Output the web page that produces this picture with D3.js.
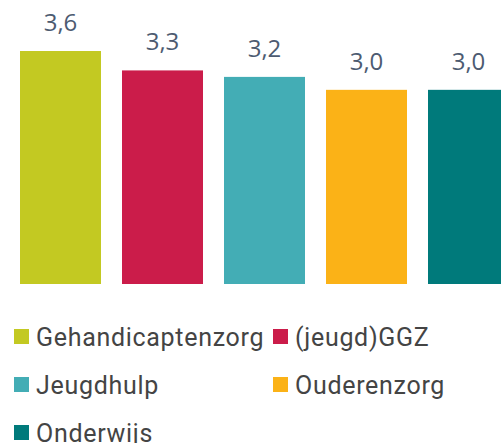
<!DOCTYPE html>
<html>
<head>
<meta charset="utf-8">
<script src="https://cdn.jsdelivr.net/npm/d3@7"></script>
<style>
  html, body { margin: 0; padding: 0; background: #fff; overflow: hidden; }
</style>
</head>
<body>
<div id="chart"></div>
<script>
var categories = ["Gehandicaptenzorg", "(jeugd)GGZ", "Jeugdhulp", "Ouderenzorg", "Onderwijs"];
var values = [3.6, 3.3, 3.2, 3.0, 3.0];
var colors = ["#c3c922", "#cb1c4a", "#43adb5", "#fbb217", "#007a7b"];

var width = 501,
  height = 443;

var svg = d3.select("#chart")
  .append("svg")
  .attr("width", width)
  .attr("height", height);

var x = d3.scaleBand()
  .domain(categories)
  .range([20, 509])
  .paddingInner(21 / 102)
  .paddingOuter(0);

var y = d3.scaleLinear()
  .domain([0, 3.6])
  .range([284, 51]);

var fmt = function (v) { return d3.format(".1f")(v).replace(".", ","); };

// bars
svg.selectAll(".bar")
  .data(values)
  .enter()
  .append("rect")
  .attr("class", "bar")
  .attr("x", (d, i) => x(categories[i]))
  .attr("y", d => y(d))
  .attr("width", x.bandwidth())
  .attr("height", d => y(0) - y(d))
  .attr("fill", (d, i) => colors[i]);

// value labels
svg.selectAll(".val")
  .data(values)
  .enter()
  .append("text")
  .attr("class", "val")
  .attr("x", (d, i) => x(categories[i]) + x.bandwidth() / 2)
  .attr("y", d => y(d) - 20)
  .attr("text-anchor", "middle")
  .attr("font-family", "'Open Sans', sans-serif")
  .attr("font-size", 24)
  .attr("fill", "#4d5b71")
  .text(d => fmt(d));

// legend
var legend = svg.selectAll(".legend")
  .data(categories)
  .enter()
  .append("g")
  .attr("class", "legend")
  .attr("transform", (d, i) => "translate(" + (i % 2 === 0 ? 14 : 273) + "," + (329 + Math.floor(i / 2) * 48) + ")");

legend.append("rect")
  .attr("width", 15)
  .attr("height", 15)
  .attr("fill", (d, i) => colors[i]);

legend.append("text")
  .attr("x", 22)
  .attr("y", 17)
  .attr("font-family", "Roboto, sans-serif")
  .attr("font-size", 25)
  .attr("letter-spacing", 0.7)
  .attr("fill", "#444444")
  .text(d => d);
</script>
</body>
</html>
